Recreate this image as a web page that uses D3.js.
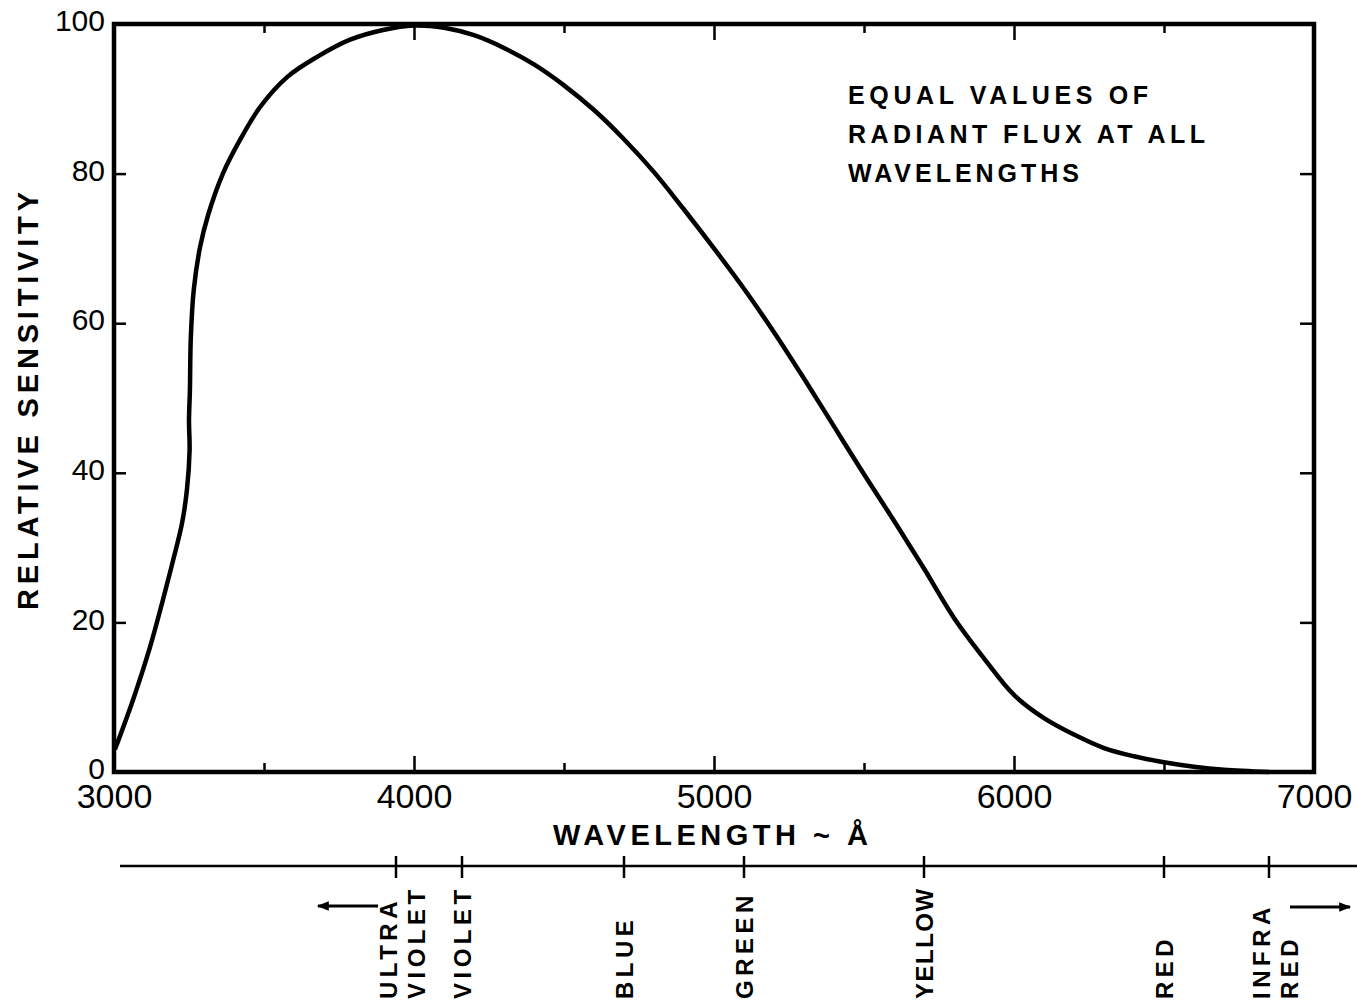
<!DOCTYPE html>
<html>
<head>
<meta charset="utf-8">
<script src="https://cdn.jsdelivr.net/npm/d3@7"></script>
<style>
  body { margin: 0; background: #fff; }
  svg { display: block; }
</style>
</head>
<body>
<svg id="chart" width="1357" height="1008"></svg>
<script>
// --- data ---
const wavelength = [3003, 3063, 3120, 3163, 3197, 3227, 3243, 3252, 3250, 3253, 3256, 3266, 3287, 3314, 3363,
  3420, 3487, 3577, 3677, 3787, 3897, 4000, 4100, 4200, 4300, 4400, 4500, 4600, 4700, 4800, 4900, 5000,
  5100, 5200, 5300, 5400, 5500, 5600, 5700, 5800, 5900, 6000, 6100, 6200, 6300, 6400, 6500, 6600, 6700, 6850];
const sensitivity = [3, 9.6, 16.7, 23, 28.3, 33.3, 37.7, 43, 47, 51, 58, 64.5, 70.2, 74.5, 80,
  84.5, 88.9, 92.9, 95.6, 97.9, 99.2, 99.8, 99.5, 98.5, 96.8, 94.6, 91.8, 88.5, 84.6, 80.2, 75.2, 70,
  64.6, 58.8, 52.6, 46.2, 39.8, 33.6, 27.2, 20.6, 15.2, 10.3, 7.2, 5, 3.2, 2.1, 1.3, 0.7, 0.3, 0];

const xMajorTicks = [3000, 4000, 5000, 6000, 7000];
const xMinorTicks = [3500, 4500, 5500, 6500];
const yTicks = [0, 20, 40, 60, 80, 100];

const bandNames = [["ULTRA", "VIOLET"], ["VIOLET"], ["BLUE"], ["GREEN"], ["YELLOW"], ["RED"], ["INFRA", "RED"]];
const bandWavelengths = [3940, 4160, 4700, 5100, 5700, 6500, 6850];

const noteLines = ["EQUAL  VALUES  OF", "RADIANT  FLUX AT  ALL", "WAVELENGTHS"];
const noteWidths = [300, 357, 231];

// --- layout ---
const svg = d3.select("#chart");
const plotLeft = 114, plotRight = 1314, plotTop = 24, plotBottom = 772;
const ink = "#000";
const numFont = "'Liberation Sans', Arial, sans-serif";
const txtFont = "'Liberation Sans', Arial, sans-serif";

const x = d3.scaleLinear().domain([3000, 7000]).range([plotLeft, plotRight]);
const y = d3.scaleLinear().domain([0, 100]).range([plotBottom, plotTop]);

// ticks (all pointing inward)
function styleAxis(g) {
  g.select(".domain").remove();
  g.selectAll(".tick line").attr("stroke", ink).attr("stroke-width", 2.5);
}

svg.append("g").attr("transform", `translate(0,${plotBottom})`)
  .call(d3.axisBottom(x).tickValues(xMajorTicks).tickFormat(d3.format("d"))
    .tickSizeInner(-16).tickSizeOuter(0).tickPadding(12))
  .call(styleAxis)
  .call(g => g.selectAll("text").attr("font-family", numFont).attr("font-size", 34).attr("fill", ink));

svg.append("g").attr("transform", `translate(0,${plotBottom})`)
  .call(d3.axisBottom(x).tickValues(xMinorTicks).tickSizeInner(-9).tickSizeOuter(0).tickFormat(""))
  .call(styleAxis);

svg.append("g").attr("transform", `translate(0,${plotTop})`)
  .call(d3.axisTop(x).tickValues(xMajorTicks).tickSizeInner(-16).tickSizeOuter(0).tickFormat(""))
  .call(styleAxis);

svg.append("g").attr("transform", `translate(0,${plotTop})`)
  .call(d3.axisTop(x).tickValues(xMinorTicks).tickSizeInner(-9).tickSizeOuter(0).tickFormat(""))
  .call(styleAxis);

svg.append("g").attr("transform", `translate(${plotLeft},0)`)
  .call(d3.axisLeft(y).tickValues(yTicks).tickSizeInner(-12).tickSizeOuter(0).tickPadding(9))
  .call(styleAxis)
  .call(g => g.selectAll("text").attr("font-family", numFont).attr("font-size", 30)
    .attr("dy", "0.22em").attr("fill", ink));

svg.append("g").attr("transform", `translate(${plotRight},0)`)
  .call(d3.axisRight(y).tickValues(yTicks).tickSizeInner(-14).tickSizeOuter(0).tickFormat(""))
  .call(styleAxis);

// frame
svg.append("rect")
  .attr("x", plotLeft).attr("y", plotTop)
  .attr("width", plotRight - plotLeft).attr("height", plotBottom - plotTop)
  .attr("fill", "none").attr("stroke", ink).attr("stroke-width", 4.5);

// curve
const line = d3.line()
  .x(d => x(d[0]))
  .y(d => y(d[1]))
  .curve(d3.curveCatmullRom.alpha(0.5));

svg.append("path")
  .datum(d3.zip(wavelength, sensitivity))
  .attr("d", line)
  .attr("fill", "none")
  .attr("stroke", ink)
  .attr("stroke-width", 4.5)
  .attr("stroke-linejoin", "round");

// axis titles
svg.append("text")
  .attr("x", 553).attr("y", 845)
  .attr("textLength", 315).attr("lengthAdjust", "spacing")
  .attr("font-family", txtFont).attr("font-size", 29).attr("font-weight", "bold")
  .attr("fill", ink)
  .text("WAVELENGTH ~ Å");

svg.append("text")
  .attr("transform", "translate(38,610) rotate(-90)")
  .attr("textLength", 418).attr("lengthAdjust", "spacing")
  .attr("font-family", txtFont).attr("font-size", 29).attr("font-weight", "bold")
  .attr("fill", ink)
  .text("RELATIVE SENSITIVITY");

// annotation
svg.append("g").selectAll("text")
  .data(d3.zip(noteLines, noteWidths))
  .join("text")
  .attr("x", 848)
  .attr("y", (d, i) => 104 + i * 39)
  .attr("textLength", d => d[1]).attr("lengthAdjust", "spacing")
  .attr("font-family", txtFont).attr("font-size", 25).attr("font-weight", "bold")
  .attr("fill", ink)
  .text(d => d[0]);

// spectrum bar under the chart
const bandY = 866;
svg.append("line")
  .attr("x1", 120).attr("x2", 1357)
  .attr("y1", bandY).attr("y2", bandY)
  .attr("stroke", ink).attr("stroke-width", 2.5);

const bands = svg.append("g").selectAll("g")
  .data(d3.zip(bandWavelengths, bandNames))
  .join("g")
  .attr("transform", d => `translate(${x(d[0])},0)`);

bands.append("line")
  .attr("y1", bandY - 10).attr("y2", bandY + 12)
  .attr("stroke", ink).attr("stroke-width", 2.5);

bands.each(function (d) {
  const names = d[1];
  const g = d3.select(this);
  names.forEach((name, i) => {
    const off = names.length > 1 ? i * 28 + 1 : 9;
    g.append("text")
      .attr("transform", `translate(${off},999) rotate(-90)`)
      .attr("font-family", txtFont).attr("font-size", 24).attr("font-weight", "bold")
      .attr("letter-spacing", name === "YELLOW" ? 1.5 : 4.5)
      .attr("fill", ink)
      .text(name);
  });
});

// arrows for ultraviolet / infrared
svg.append("defs").append("marker")
  .attr("id", "head")
  .attr("viewBox", "0 0 10 10")
  .attr("refX", 9).attr("refY", 5)
  .attr("markerWidth", 5).attr("markerHeight", 4)
  .attr("orient", "auto")
  .append("path").attr("d", "M0,1 L10,5 L0,9 Z").attr("fill", ink);

svg.append("line")
  .attr("x1", 378).attr("x2", 318).attr("y1", 906).attr("y2", 906)
  .attr("stroke", ink).attr("stroke-width", 3).attr("marker-end", "url(#head)");

svg.append("line")
  .attr("x1", 1290).attr("x2", 1350).attr("y1", 907).attr("y2", 907)
  .attr("stroke", ink).attr("stroke-width", 3).attr("marker-end", "url(#head)");
</script>
</body>
</html>
